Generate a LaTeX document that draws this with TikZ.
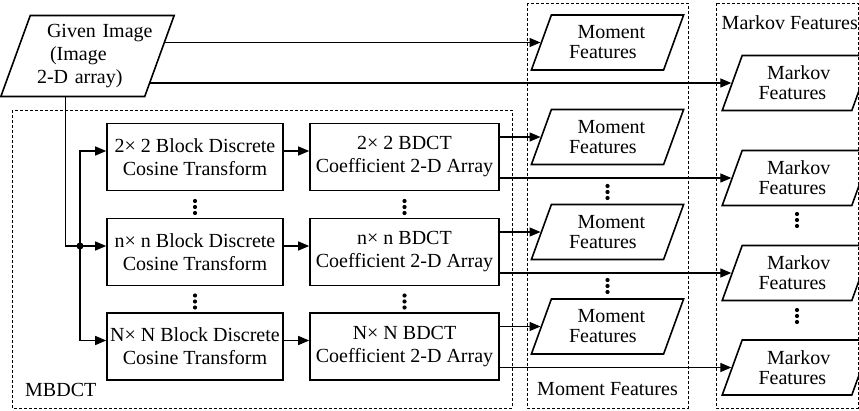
\documentclass[tikz,border=0pt]{standalone}
\usepackage{fontspec}
\setmainfont{Liberation Serif}
\usetikzlibrary{shapes.geometric,arrows.meta,calc}

\tikzset{
  blk/.style={draw, line width=1.6pt, inner xsep=0pt, align=center, minimum height=67pt},
  feat/.style={draw, line width=1.6pt, trapezium, trapezium left angle=70, trapezium right angle=110,
    inner sep=0pt, minimum height=55pt, text width=68pt, align=left, font=\fontsize{20}{20}\selectfont},
  arr/.style={line width=1.2pt, -{Triangle[length=11pt,width=9pt]}},
  grp/.style={line width=0.7pt, dash pattern=on 3pt off 2pt},
}
\newcommand{\twoline}[2]{\hspace*{4pt}\mbox{#1}\\\hspace*{-4.5pt}\mbox{#2}}
\newcommand{\vdotsmark}[1]{\foreach \k in {-6,0,6}{\fill ($(#1)+(0,\k)$) circle (2.1pt);}}

\begin{document}
\begin{tikzpicture}[x=1pt, y=-1pt, font=\fontsize{20}{23}\selectfont]
  \useasboundingbox (0,0) rectangle (859,411);
  % groups
  \draw[grp] (12,110) rectangle (512,408);
  \draw[grp] (527,3) rectangle (688,408);
  \draw[grp] (716,3) rectangle (858,408);
  \node[anchor=base west, inner sep=0pt] (lbmb) at (25,396) {MBDCT};
  \node[anchor=base, inner sep=0pt] (lbmo) at (607.5,395) {Moment Features};
  \node[anchor=base east, inner sep=0pt] (lbma) at (858,30) {Markov Features};

  % input image
  \node[feat, minimum height=81pt, text width=90pt, font=\fontsize{20}{23}\selectfont] (gi) at (87.5,56)
    {\hspace*{4.5pt}\mbox{Given Image}\\\hspace*{7.5pt}\mbox{(Image}\\\hspace*{-5.5pt}\mbox{2-D array)}};
  \node[feat] (mog) at (607.5,42.5) {\twoline{Moment}{Features}};
  \node[feat] (mag) at (797,83) {\twoline{Markov}{Features}};
  \coordinate (gi1) at ($(gi.top right corner)!0.33!(gi.bottom right corner)$);
  \coordinate (gi2) at ($(gi.top right corner)!0.83!(gi.bottom right corner)$);
  \coordinate (gib) at ($(gi.bottom left corner)!0.45!(gi.bottom right corner)$);
  \coordinate (jn) at (80,246);
  \draw[arr] (gi1 |- mog.west) -- (mog.west);
  \draw[arr] (gi2 |- mag.west) -- (mag.west);
  \draw[line width=1.2pt] (gib) |- (jn);
  \fill (jn) circle (3.5pt);

  % block DCT rows
  \foreach \i/\y/\sz in {1/157/2, 2/252/n, 3/346.5/N} {
    \node[blk, minimum width=176pt] (a\i) at (195,\y) {{\sz}× {\sz} Block Discrete\\Cosine Transform};
    \node[blk, minimum width=189pt] (b\i) at (404.5,\y) {{\sz}× {\sz} BDCT\\Coefficient 2-D Array};
    \node[feat] (mo\i) at (607.5,\y-20) {\twoline{Moment}{Features}};
    \node[feat] (ma\i) at (797,\y+21) {\twoline{Markov}{Features}};
    \draw[arr] (jn) |- ([yshift=6pt]a\i.west);
    \draw[arr] ([yshift=6pt]a\i.east) -- ([yshift=6pt]b\i.west);
    \draw[arr] (b\i.east |- mo\i.west) -- (mo\i.west);
    \draw[arr] (b\i.east |- ma\i.west) -- (ma\i.west);
  }

  % ellipses
  \coordinate (d1) at (195,207);   \coordinate (d2) at (404.5,207);
  \coordinate (d3) at (195,301.5); \coordinate (d4) at (404.5,301.5);
  \coordinate (d5) at (607.5,192); \coordinate (d6) at (607.5,286);
  \coordinate (d7) at (797,220);   \coordinate (d8) at (797,316);
  \vdotsmark{d1} \vdotsmark{d2} \vdotsmark{d3} \vdotsmark{d4}
  \vdotsmark{d5} \vdotsmark{d6} \vdotsmark{d7} \vdotsmark{d8}
\end{tikzpicture}
\end{document}
